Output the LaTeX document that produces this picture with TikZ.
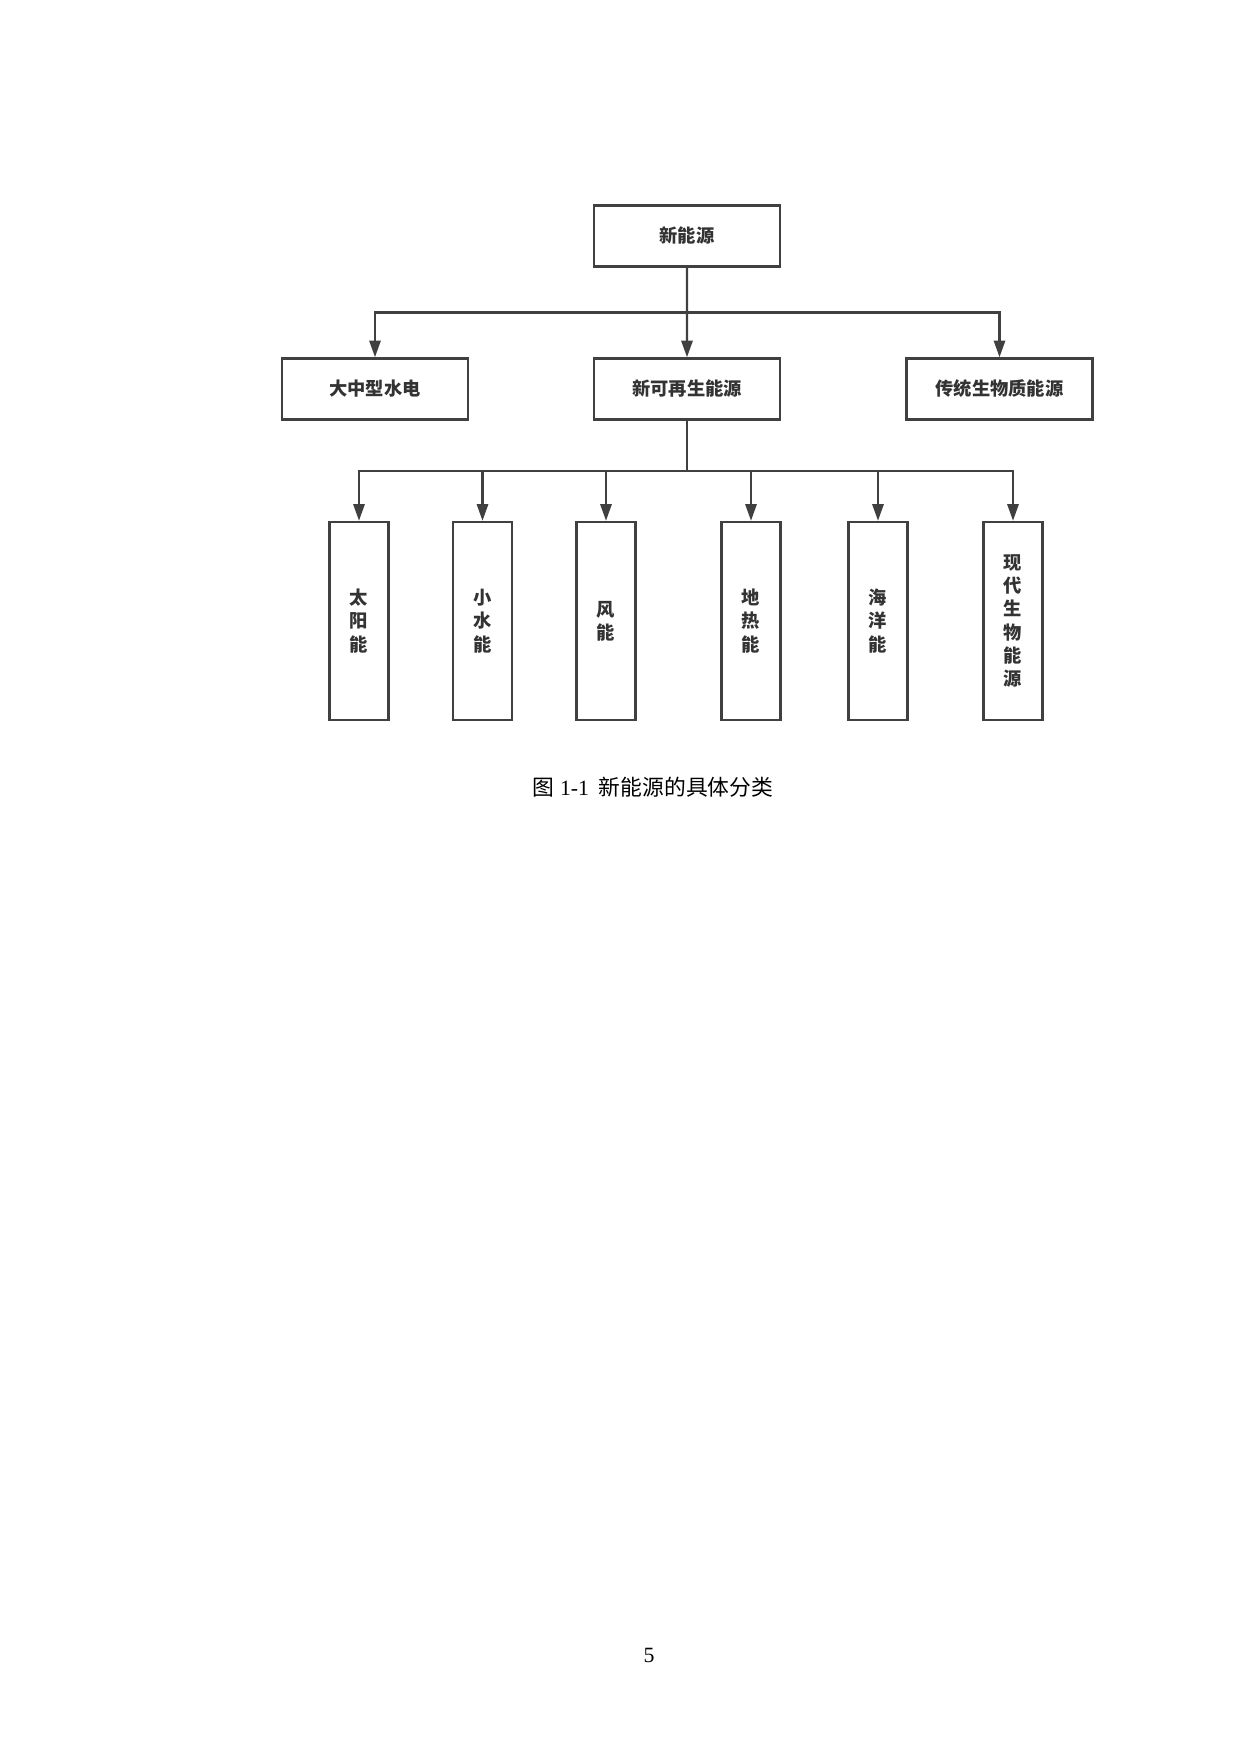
\documentclass[tikz,border=0pt]{standalone}
\usepackage{fontspec}
\setmainfont{Liberation Serif}
\newfontfamily\cjk{Noto Sans CJK SC}
\usetikzlibrary{arrows.meta, positioning, calc}
\definecolor{linegray}{RGB}{64, 64, 64}
\definecolor{textgray}{RGB}{51, 51, 51}
\tikzset{
    box/.style={
        rectangle, minimum width=31.5mm, minimum height=10.3mm, inner sep=0pt,
        draw=linegray, line width=1.3pt, fill=white, text=textgray,
        font=\cjk\bfseries\fontsize{8.8}{11.2}\selectfont, align=center
    },
    tallbox/.style={box, minimum width=10mm, minimum height=33.5mm},
    arrow/.style={-{Triangle[length=2.8mm, width=1.9mm]}, line width=1pt, color=linegray},
    link/.style={line width=1.1pt, color=linegray},
    caption/.style={font=\fontsize{10.5}{12}\selectfont, color=black},
}
\begin{document}
\begin{tikzpicture}[x=0.16935mm, y=-0.16935mm]
    \useasboundingbox (0, 0) rectangle (1240, 1754);

    \node[box] (newenergy) at (687, 236) {新能源};

    \node[box] (hydro) at (375, 389) {大中型水电};
    \node[box] (renew) at (687, 389) {新可再生能源};
    \node[box] (biotrad) at (999.5, 389) {传统生物质能源};

    \node[tallbox] (solar) at (359, 621) {太\\阳\\能};
    \node[tallbox] (smallhydro) at (482.5, 621) {小\\水\\能};
    \node[tallbox] (wind) at (606, 621) {风\\能};
    \node[tallbox] (geo) at (751, 621) {地\\热\\能};
    \node[tallbox] (ocean) at (878, 621) {海\\洋\\能};
    \node[tallbox] (biomod) at (1013, 621) {现\\代\\生\\物\\能\\源};

    \coordinate (hub1) at ($(newenergy.south)!0.5!(renew.north)$);
    \coordinate (hub2) at (687, 471);

    \draw[link] (newenergy) -- (hub1);
    \draw[arrow] (hub1) -| (hydro);
    \draw[arrow] (hub1) -- (renew);
    \draw[arrow] (hub1) -| (biotrad);

    \draw[link] (renew) -- (hub2);
    \draw[arrow] (hub2) -| (solar);
    \draw[arrow] (hub2) -| (smallhydro);
    \draw[arrow] (hub2) -| (wind);
    \draw[arrow] (hub2) -| (geo);
    \draw[arrow] (hub2) -| (ocean);
    \draw[arrow] (hub2) -| (biomod);

    \node[caption] (figcap) at (653, 787) {{\cjk 图}~1-1\hspace{0.45em}{\cjk 新能源的具体分类}};
    \node[caption] (pagenum) at (649, 1655) {5};
\end{tikzpicture}
\end{document}
